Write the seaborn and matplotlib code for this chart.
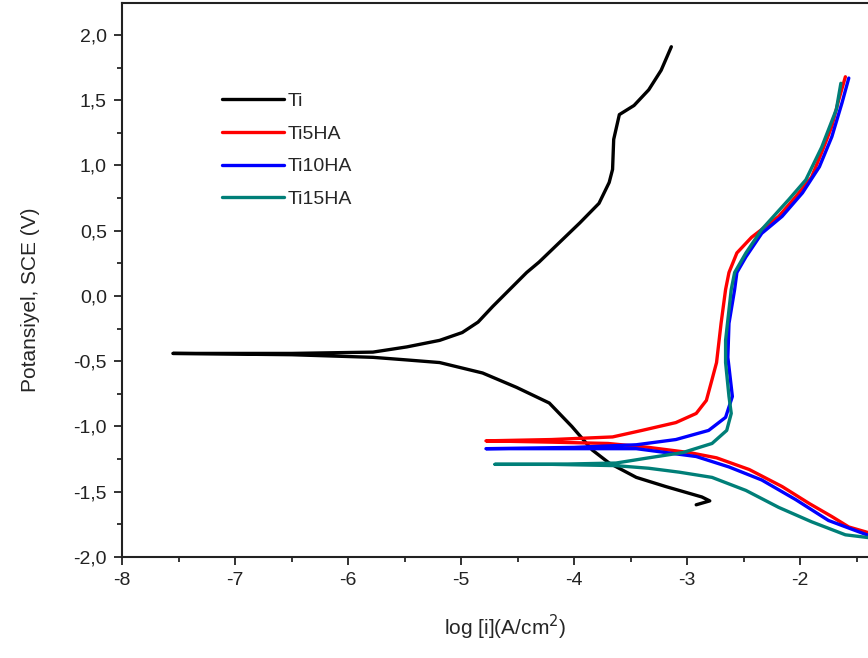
import numpy as np
import pandas as pd
import matplotlib
matplotlib.use('Agg')
import matplotlib.pyplot as plt
import seaborn as sns
from matplotlib.ticker import MultipleLocator, FuncFormatter

# Tafel curves (log i, E) in sweep order
ti_x = [-2.92, -2.80, -2.87, -3.19, -3.45, -3.69, -3.84, -4.02, -4.22, -4.51, -4.81, -5.19, -5.48, -5.78,
        -6.50, -7.55, -6.50, -5.78, -5.48, -5.19, -4.99, -4.85, -4.72, -4.57, -4.42, -4.31, -4.13, -3.95,
        -3.78, -3.69, -3.66, -3.65, -3.60, -3.47, -3.34, -3.23, -3.14]
ti_y = [-1.60, -1.57, -1.54, -1.46, -1.39, -1.28, -1.18, -1.00, -0.82, -0.70, -0.59, -0.51, -0.49, -0.47,
        -0.45, -0.44, -0.44, -0.43, -0.39, -0.34, -0.28, -0.20, -0.08, 0.05, 0.18, 0.26, 0.41, 0.56,
        0.71, 0.87, 0.97, 1.20, 1.39, 1.46, 1.58, 1.73, 1.91]

ti5_x = [-1.30, -1.41, -1.57, -1.72, -1.92, -2.16, -2.45, -2.74, -2.98, -3.34, -3.70, -4.20, -4.78, -4.20,
         -3.66, -3.40, -3.10, -2.92, -2.83, -2.78, -2.74, -2.70, -2.66, -2.63, -2.56, -2.43, -2.34, -2.19,
         -2.04, -1.90, -1.81, -1.72, -1.66, -1.60]
ti5_y = [-1.84, -1.81, -1.77, -1.69, -1.59, -1.46, -1.33, -1.24, -1.20, -1.16, -1.13, -1.12, -1.11, -1.10,
         -1.08, -1.03, -0.97, -0.90, -0.80, -0.64, -0.51, -0.21, 0.05, 0.18, 0.33, 0.45, 0.51, 0.61,
         0.76, 0.91, 1.10, 1.30, 1.50, 1.68]

ti10_x = [-1.30, -1.41, -1.75, -2.04, -2.34, -2.63, -2.92, -3.45, -4.00, -4.78, -4.00, -3.45, -3.10, -2.81,
          -2.66, -2.60, -2.62, -2.64, -2.63, -2.58, -2.56, -2.48, -2.34, -2.16, -1.98, -1.83, -1.72, -1.63, -1.57]
ti10_y = [-1.85, -1.83, -1.72, -1.56, -1.41, -1.31, -1.23, -1.17, -1.17, -1.17, -1.16, -1.14, -1.10, -1.03,
          -0.93, -0.77, -0.62, -0.47, -0.21, 0.05, 0.18, 0.30, 0.48, 0.61, 0.79, 0.99, 1.22, 1.48, 1.67]

ti15_x = [-1.30, -1.41, -1.60, -1.90, -2.19, -2.48, -2.78, -3.07, -3.34, -3.63, -4.20, -4.70, -4.20, -3.63,
          -3.34, -3.04, -2.78, -2.65, -2.61, -2.63, -2.66, -2.66, -2.61, -2.58, -2.48, -2.34, -2.10, -1.95,
          -1.81, -1.68, -1.64]
ti15_y = [-1.86, -1.85, -1.83, -1.73, -1.62, -1.49, -1.39, -1.35, -1.32, -1.30, -1.29, -1.29, -1.29, -1.28,
          -1.24, -1.20, -1.13, -1.03, -0.90, -0.77, -0.51, -0.34, 0.05, 0.18, 0.33, 0.51, 0.74, 0.89,
          1.14, 1.43, 1.63]

series = ['Ti', 'Ti5HA', 'Ti10HA', 'Ti15HA']
renkler = ['#000000', '#ff0000', '#0000ff', '#007f78']

frames = []
for ad, xs, ys in zip(series, [ti_x, ti5_x, ti10_x, ti15_x], [ti_y, ti5_y, ti10_y, ti15_y]):
    frames.append(pd.DataFrame({'logi': xs, 'E': ys, 'numune': ad}))
df = pd.concat(frames, ignore_index=True)

sns.set_style('ticks')
plt.rcParams['font.family'] = ['Liberation Sans', 'DejaVu Sans']
plt.rcParams['axes.unicode_minus'] = False

fig = plt.figure(figsize=(8.68, 6.58), dpi=100)
ax = fig.add_axes([0.1406, 0.1535, 0.8594, 0.8419])

for ad, renk in zip(series, renkler):
    sns.lineplot(data=df[df['numune'] == ad], x='logi', y='E', sort=False, estimator=None,
                 color=renk, lw=2.4, ax=ax, label=ad)

ax.set_xlim(-8, -1.4)
ax.set_ylim(-2.0, 2.245)
ax.xaxis.set_major_locator(MultipleLocator(1))
ax.xaxis.set_minor_locator(MultipleLocator(0.5))
ax.yaxis.set_major_locator(MultipleLocator(0.5))
ax.yaxis.set_minor_locator(MultipleLocator(0.25))
ax.xaxis.set_major_formatter(FuncFormatter(lambda v, p: f'{v:.0f}'))
ax.yaxis.set_major_formatter(FuncFormatter(lambda v, p: f'{v:.1f}'.replace('.', ',')))
ax.tick_params(which='major', direction='out', length=6, width=1.3, labelsize=14, colors='#222222', pad=5)
ax.tick_params(which='minor', direction='out', length=3.5, width=1.3)
for s in ['left', 'bottom', 'top']:
    ax.spines[s].set_linewidth(1.5)
    ax.spines[s].set_color('#222222')
ax.spines['right'].set_visible(False)

ax.set_xlabel('log [i](A/cm$^{2}$)', fontsize=15)
ax.set_ylabel('Potansiyel, SCE (V)', fontsize=15)
ax.xaxis.set_label_coords(0.513, -0.1)
ax.yaxis.set_label_coords(-0.11, 0.464)

ax.legend(loc='upper left', bbox_to_anchor=(0.11, 0.87), frameon=False, fontsize=14,
          handlelength=3.2, handletextpad=0.2, labelspacing=0.77)

fig.savefig('out.png', dpi=100)
